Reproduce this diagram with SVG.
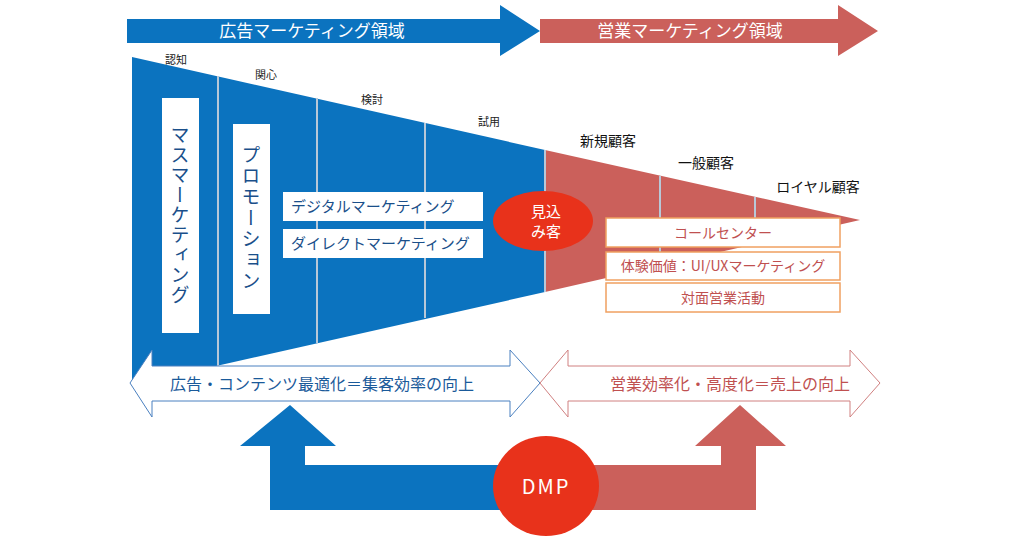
<svg xmlns="http://www.w3.org/2000/svg" width="1024" height="538" viewBox="0 0 1024 538">
<style>
text{font-family:"Noto Sans CJK JP","Noto Sans",sans-serif}
.b{fill:#0b73bf}.r{fill:#cb605b}
.div{stroke:#b8c8d8;stroke-width:2}
.wbox{fill:#fff}
.obox{fill:#fff;stroke:#f0a060;stroke-width:1.5}
.lbl{font-size:11px;fill:#222}
.lbl2{font-size:14px;fill:#111}
.bt{font-size:15px;fill:#1a4f8a}
.rt{font-size:14px;fill:#c05050}
.vt{writing-mode:vertical-rl;font-size:19px;fill:#1a4f8a}
</style>
<rect width="1024" height="538" fill="#fff"/>
<g id="top-arrows">
<polygon class="b" points="127,19 500,19 500,5 540,31 500,56 500,43 127,43"/>
<text x="312" y="37" font-size="17" fill="#fff" text-anchor="middle">広告マーケティング領域</text>
<polygon class="r" points="540,19 838,19 838,5 878,31 838,56 838,43 540,43"/>
<text x="690" y="37" font-size="17" fill="#fff" text-anchor="middle">営業マーケティング領域</text>
</g>
<g id="funnel">
<polygon class="b" points="132,57 545,150 545,292 132,385"/>
<polygon class="r" points="545,150 860,220 545,292"/>
<line class="div" x1="218" y1="76" x2="218" y2="366"/>
<line class="div" x1="317" y1="98" x2="317" y2="343"/>
<line class="div" x1="425" y1="123" x2="425" y2="318"/>
<line class="div" x1="545" y1="150" x2="545" y2="292"/>
<line class="div" x1="660" y1="176" x2="660" y2="266"/>
<line class="div" x1="755" y1="197" x2="755" y2="244"/>
</g>
<g id="stage-labels">
<text class="lbl" x="176" y="64" text-anchor="middle">認知</text>
<text class="lbl" x="266" y="79" text-anchor="middle">関心</text>
<text class="lbl" x="372" y="104" text-anchor="middle">検討</text>
<text class="lbl" x="489" y="126" text-anchor="middle">試用</text>
<text class="lbl2" x="608" y="146" text-anchor="middle">新規顧客</text>
<text class="lbl2" x="706" y="168" text-anchor="middle">一般顧客</text>
<text class="lbl2" x="818" y="192" text-anchor="middle">ロイヤル顧客</text>
</g>
<g id="mass">
<rect class="wbox" x="162" y="98" width="37" height="235"/>
<text class="vt" x="180" y="215" text-anchor="middle" letter-spacing="1">マスマーケティング</text>
</g>
<g id="promo">
<rect class="wbox" x="233" y="124" width="37" height="190"/>
<text class="vt" x="251" y="219" text-anchor="middle" letter-spacing="2">プロモーション</text>
</g>
<g id="digital">
<rect class="wbox" x="283" y="192" width="200" height="29"/>
<text class="bt" x="291" y="212">デジタルマーケティング</text>
</g>
<g id="direct">
<rect class="wbox" x="283" y="229" width="200" height="29"/>
<text class="bt" x="291" y="249">ダイレクトマーケティング</text>
</g>
<g id="prospect">
<ellipse cx="543" cy="221" rx="50" ry="30" fill="#e8321b"/>
<text x="546" y="217" font-size="15" fill="#fff" text-anchor="middle">見込</text>
<text x="546" y="237" font-size="15" fill="#fff" text-anchor="middle">み客</text>
</g>
<g id="callcenter">
<rect class="obox" x="606" y="218" width="234" height="29"/>
<text class="rt" x="723" y="238" text-anchor="middle">コールセンター</text>
</g>
<g id="uiux">
<rect class="obox" x="606" y="252" width="234" height="28"/>
<text class="rt" x="723" y="271" font-size="12" text-anchor="middle">体験価値：UI/UXマーケティング</text>
</g>
<g id="face">
<rect class="obox" x="606" y="283" width="234" height="29"/>
<text class="rt" x="723" y="303" text-anchor="middle">対面営業活動</text>
</g>
<g id="connectors">
<polygon points="130,383 152,350 152,366 510,366 510,350 540,383 510,417 510,401 152,401 152,417" fill="#fff" stroke="#4a80c0" stroke-width="1"/>
<polygon points="540,383 568,350 568,366 850,366 850,350 880,383 850,417 850,401 568,401 568,417" fill="#fff" stroke="#d08080" stroke-width="1"/>
<polygon class="b" points="290,405 336,446 305,446 305,465 545,465 545,510 270,510 270,446 240,446"/>
<polygon class="r" points="740,405 786,446 756,446 756,510 545,510 545,465 721,465 721,446 695,446"/>
</g>
<g id="bottom-labels">
<text x="322" y="390" font-size="16" fill="#1a5a9a" text-anchor="middle">広告・コンテンツ最適化＝集客効率の向上</text>
<text x="730" y="390" font-size="16" fill="#c05050" text-anchor="middle">営業効率化・高度化＝売上の向上</text>
</g>
<g id="dmp">
<ellipse cx="546" cy="486" rx="53" ry="50" fill="#e8321b"/>
<text x="546" y="494" font-size="20" fill="#fff" text-anchor="middle" letter-spacing="2">DMP</text>
</g>
</svg>
